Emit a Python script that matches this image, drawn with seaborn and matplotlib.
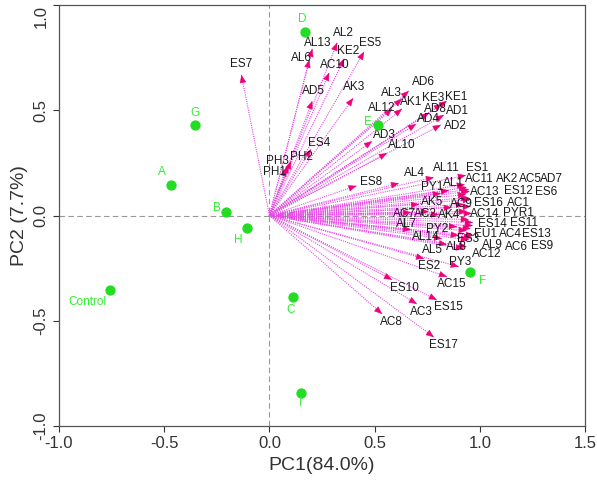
import numpy as np
import pandas as pd
import seaborn as sns
import matplotlib.pyplot as plt

# puntuaciones de los tratamientos (PC1, PC2)
samples = ["Control", "A", "B", "C", "D", "E", "F", "G", "H", "I"]
pc1_scores = [-0.757, -0.466, -0.207, 0.110, 0.168, 0.516, 0.953, -0.353, -0.105, 0.149]
pc2_scores = [-0.355, 0.146, 0.017, -0.386, 0.870, 0.432, -0.268, 0.429, -0.058, -0.842]

# cargas de las variables
variables = ["ES7", "AL13", "AL6", "AL2", "KE2", "ES5", "AC10", "AD5", "AK3", "AD6",
             "AL3", "AL12", "AK1", "KE3", "KE1", "AD8", "AD1", "AD4", "AD2", "AD3",
             "AL10", "ES4", "PH2", "PH3", "PH1", "ES8", "AL4", "AL11", "ES1", "PY1",
             "AL1", "AC11", "AK2", "AC5", "AD7", "AC13", "ES12", "ES6", "AK5", "AC9",
             "ES16", "AC1", "AC7", "AC2", "AK4", "AC14", "PYR1", "AL7", "PY2", "ES14",
             "ES11", "AL14", "EU1", "AC4", "ES13", "ES3", "AL5", "AL8", "AL9", "AC6",
             "ES9", "AC12", "ES2", "PY3", "AC15", "ES10", "AC3", "ES15", "AC8", "ES17"]
pc1_load = [-0.133, 0.204, 0.190, 0.322, 0.355, 0.450, 0.284, 0.204, 0.398, 0.663,
            0.630, 0.583, 0.630, 0.820, 0.844, 0.758, 0.829, 0.697, 0.815, 0.488,
            0.559, 0.198, 0.103, 0.090, 0.079, 0.414, 0.616, 0.782, 0.934, 0.815,
            0.853, 0.929, 0.938, 0.948, 0.953, 0.934, 0.948, 0.957, 0.711, 0.867,
            0.924, 0.957, 0.673, 0.758, 0.806, 0.938, 0.962, 0.673, 0.891, 0.948,
            0.967, 0.820, 0.938, 0.957, 0.967, 0.900, 0.844, 0.924, 0.948, 0.962,
            0.972, 0.938, 0.735, 0.900, 0.844, 0.583, 0.701, 0.796, 0.536, 0.782]
pc2_load = [0.668, 0.792, 0.740, 0.821, 0.745, 0.778, 0.678, 0.544, 0.558, 0.592,
            0.554, 0.506, 0.506, 0.530, 0.544, 0.487, 0.477, 0.434, 0.430, 0.353,
            0.296, 0.315, 0.258, 0.239, 0.224, 0.141, 0.153, 0.181, 0.191, 0.105,
            0.119, 0.148, 0.134, 0.124, 0.115, 0.100, 0.086, 0.076, 0.053, 0.038,
            0.053, 0.043, 0.014, 0.019, 0.005, 0.019, 0.010, -0.067, -0.053, -0.019,
            -0.033, -0.110, -0.072, -0.062, -0.048, -0.095, -0.138, -0.158, -0.115, -0.105,
            -0.095, -0.148, -0.205, -0.243, -0.291, -0.305, -0.420, -0.401, -0.468, -0.578]

# desplazamiento de las etiquetas (pixeles, y hacia abajo)
var_offsets = {
    "ES7": (0, -11), "AL13": (5, -6), "AL6": (-8, -2), "AL2": (6, -10), "KE2": (4, -8),
    "ES5": (6, -9), "AC10": (6, -8), "AD5": (1, -10), "AK3": (1, -11), "AD6": (15, -9),
    "AL3": (-11, -6), "AL12": (-10, -1), "AK1": (9, -7), "KE3": (-9, -6), "KE1": (9, -4),
    "AD8": (7, -4), "AD1": (14, -4), "AD4": (12, -5), "AD2": (15, 1), "AD3": (12, -6),
    "AL10": (15, -8), "ES4": (8, -6), "PH2": (10, -4), "PH3": (-11, -4), "PH1": (-12, 4),
    "ES8": (15, -4), "AL4": (15, -10), "AL11": (12, -9), "ES1": (11, -7), "PY1": (-9, -6),
    "AL1": (5, -7), "AC11": (14, -5), "AK2": (40, -8), "AC5": (62, -10), "AD7": (82, -12),
    "AC13": (19, -2), "ES12": (50, -6), "ES6": (75, -8), "AK5": (13, -2), "AC9": (10, -4),
    "ES16": (25, -1), "AC1": (48, -3), "AC7": (-7, 1), "AC2": (-3, 2), "AK4": (10, 1),
    "AC14": (18, 2), "PYR1": (47, 0), "AL7": (-5, -6), "PY2": (-20, 2), "ES14": (24, 4),
    "ES11": (51, 1), "AL14": (-16, -2), "EU1": (19, 3), "AC4": (40, 5), "ES13": (64, 8),
    "ES3": (9, 4), "AL5": (-15, 5), "AL8": (-7, -2), "AL9": (24, 5), "AC6": (45, 9),
    "ES9": (68, 11), "AC12": (20, 7), "ES2": (5, 7), "PY3": (1, -5), "AC15": (5, 7),
    "ES10": (12, 8), "AC3": (5, 8), "ES15": (12, 7), "AC8": (9, 8), "ES17": (10, 8),
}
sample_offsets = {
    "Control": (-23, 12), "A": (-9, -13), "B": (-9, -4), "C": (-2, 13), "D": (-2, -13),
    "E": (-10, -3), "F": (13, 9), "G": (0, -12), "H": (-9, 12), "I": (0, 10),
}

scores = pd.DataFrame({"sample": samples, "PC1": pc1_scores, "PC2": pc2_scores})
loads = pd.DataFrame({"var": variables, "PC1": pc1_load, "PC2": pc2_load})

sns.set_theme(style="ticks")
plt.rcParams["font.family"] = ["Liberation Sans", "DejaVu Sans"]
plt.rcParams["axes.unicode_minus"] = False

fig = plt.figure(figsize=(5.97, 4.82), dpi=100)
ax = fig.add_axes([0.0988, 0.1162, 0.8811, 0.8734])

ax.axhline(0, color="#999999", lw=0.8, ls=(0, (5, 3)), zorder=1)
ax.axvline(0, color="#999999", lw=0.8, ls=(0, (5, 3)), zorder=1)

line_col = "#e64ce6"
head_col = "#f0007a"
px = 0.72  # pixel -> punto
for _, r in loads.iterrows():
    ax.plot([0, r.PC1], [0, r.PC2], color=line_col, lw=0.8, ls=(0, (1, 1)), zorder=2)
    n = np.hypot(r.PC1, r.PC2)
    ax.annotate("", xy=(r.PC1, r.PC2), xytext=(-4 * r.PC1 / n, -4 * r.PC2 / n),
                textcoords="offset points",
                arrowprops=dict(arrowstyle="-|>,head_length=0.42,head_width=0.17",
                                color=head_col, lw=0.4, shrinkA=0, shrinkB=0),
                zorder=3)
    dx, dy = var_offsets[r["var"]]
    ax.annotate(r["var"], xy=(r.PC1, r.PC2), xytext=(dx * px, -dy * px),
                textcoords="offset points", ha="center", va="center",
                fontsize=8.5, color="#1a1a1a", zorder=4)

green = "#22dd22"
sns.scatterplot(data=scores, x="PC1", y="PC2", color=green, s=55,
                edgecolor=green, linewidth=0, ax=ax, zorder=5, legend=False)
for _, r in scores.iterrows():
    dx, dy = sample_offsets[r["sample"]]
    ax.annotate(r["sample"], xy=(r.PC1, r.PC2), xytext=(dx * px, -dy * px),
                textcoords="offset points", ha="center", va="center",
                fontsize=8.5, color="#33ee33", zorder=6)

xt = np.arange(-1.0, 1.51, 0.5)
yt = np.arange(-1.0, 1.01, 0.5)
ax.set_xlim(-1.0, 1.5)
ax.set_ylim(-1.0, 1.0)
ax.set_xticks(xt)
ax.set_yticks(yt)
ax.set_xticklabels([f"{v:.1f}" for v in xt])
ax.set_yticklabels([f"{v:.1f}" for v in yt], rotation=90, va="center")
ax.get_yticklabels()[-1].set_va("top")
ax.tick_params(axis="both", direction="out", length=4, width=0.8,
               labelsize=12, colors="#333333", labelcolor="#333333")
for s in ax.spines.values():
    s.set_color("#555555")
    s.set_linewidth(0.9)

ax.set_xlabel("PC1(84.0%)", fontsize=14, color="#333333", labelpad=4)
ax.set_ylabel("PC2 (7.7%)", fontsize=14, color="#333333", labelpad=4)

plt.savefig("out.png", dpi=100)
